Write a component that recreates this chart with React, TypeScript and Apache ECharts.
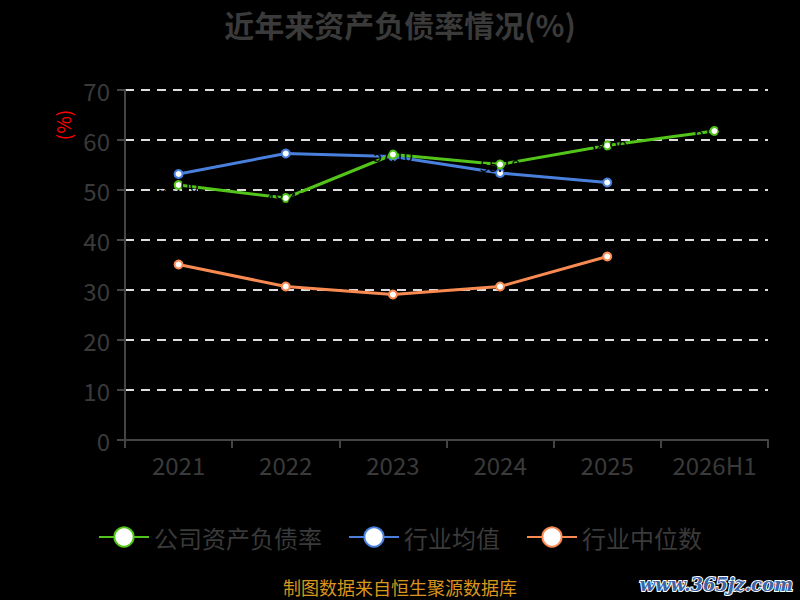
import React, { useEffect, useRef } from "react";
import * as echarts from "echarts";

const categories = ["2021", "2022", "2023", "2024", "2025", "2026H1"];
const companyRatio = [51.0, 48.4, 57.1, 55.1, 58.9, 61.8];
const industryMean = [53.2, 57.3, 56.7, 53.4, 51.5];
const industryMedian = [35.1, 30.7, 29.1, 30.7, 36.7];
const yTicks = { min: 0, max: 70, interval: 10 };

const FONT = "'Noto Sans CJK SC', 'Noto Sans', sans-serif";

export default function App() {
  const ref = useRef<HTMLDivElement>(null);
  useEffect(() => {
    document.body.style.margin = "0";
    document.body.style.background = "#000000";
    if (!ref.current) return;
    const chart = echarts.init(ref.current, null, { renderer: "svg" });
    const sym = (color: string) => ({
      type: "line",
      symbol: "circle",
      symbolSize: 8,
      lineStyle: { width: 3, color },
      itemStyle: { color: "#ffffff", borderColor: color, borderWidth: 2 },
    });
    chart.setOption({
      animation: false,
      backgroundColor: "#000000",
      textStyle: { fontFamily: FONT },
      title: {
        text: "近年来资产负债率情况(%)",
        left: "center",
        top: 4,
        textStyle: { fontSize: 30, fontWeight: "bold", color: "#3a3a3a", fontFamily: FONT },
      },
      legend: {
        top: 520,
        left: "center",
        itemWidth: 50,
        itemHeight: 24,
        itemGap: 26,
        textStyle: { fontSize: 24, color: "#3a3a3a", fontFamily: FONT },
        data: ["公司资产负债率", "行业均值", "行业中位数"],
      },
      grid: { left: 125, right: 32, top: 90, bottom: 160 },
      xAxis: {
        type: "category",
        data: categories,
        axisLine: { lineStyle: { color: "#444", width: 2 } },
        axisTick: { show: true, length: 8, lineStyle: { color: "#444", width: 2 } },
        axisLabel: { fontSize: 24, color: "#3a3a3a", margin: 12, fontFamily: FONT, interval: 0 },
      },
      yAxis: {
        type: "value",
        min: yTicks.min,
        max: yTicks.max,
        interval: yTicks.interval,
        axisLine: { show: true, lineStyle: { color: "#444", width: 2 } },
        axisTick: { show: true, length: 8, lineStyle: { color: "#444", width: 2 } },
        axisLabel: { fontSize: 24, color: "#3a3a3a", margin: 15, fontFamily: FONT },
        splitLine: { lineStyle: { color: "#dddddd", type: [9, 7], width: 2 } },
      },
      graphic: [
        {
          type: "text",
          x: 62,
          y: 125,
          rotation: Math.PI / 2,
          style: {
            text: "(%)",
            fill: "#ff0000",
            fontSize: 19,
            fontFamily: FONT,
            align: "center",
            verticalAlign: "middle",
          },
        },
        {
          type: "text",
          left: "center",
          top: 578,
          style: {
            text: "制图数据来自恒生聚源数据库",
            fill: "#d9961c",
            fontSize: 18,
            fontFamily: FONT,
          },
        },
        {
          type: "text",
          right: 6,
          top: 574,
          style: {
            text: "www.365jz.com",
            fill: "#3a66a8",
            stroke: "#ffffff",
            lineWidth: 2,
            fontSize: 18,
            fontWeight: "bold",
            fontStyle: "italic",
            fontFamily: "'DejaVu Serif', serif",
          },
        },
      ],
      series: [
        {
          ...sym("#52c41a"),
          name: "公司资产负债率",
          data: companyRatio,
          z: 3,
          label: {
            show: true,
            position: "inside",
            color: "#000000",
            fontSize: 16,
            formatter: (p: any) => p.value.toFixed(2),
          },
        },
        { ...sym("#4a80dd"), name: "行业均值", data: industryMean, z: 2 },
        { ...sym("#f98a52"), name: "行业中位数", data: industryMedian, z: 1 },
      ],
    });
    return () => chart.dispose();
  }, []);
  return <div ref={ref} style={{ width: 800, height: 600 }} />;
}
